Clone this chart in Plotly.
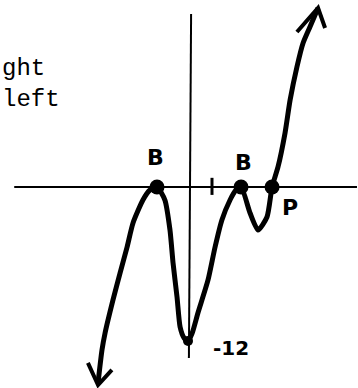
import plotly.graph_objects as go

# Curve (x units: tick "1" = 1; y units: "-12" = -12)
curve_x = [-4.18, -4.00, -3.86, -3.50, -3.18, -2.86, -2.59, -2.14, -1.82, -1.50,
           -1.14, -0.91, -0.77, -0.59, -0.45, -0.27, -0.09,
           0.10, 0.36, 0.82, 1.14, 1.45, 1.82, 2.09, 2.32,
           2.73, 3.09, 3.50, 3.73,
           4.00, 4.32, 4.55, 4.86, 5.14, 5.45, 5.82]
curve_y = [-15.37, -12.78, -11.45, -8.86, -6.75, -4.71, -2.82, -1.02, -0.24, 0.0,
           -1.02, -3.37, -5.96, -8.63, -10.98, -11.84, -12.08,
           -11.45, -9.88, -7.29, -4.71, -2.59, -1.02, -0.24, 0.0,
           -2.04, -3.37, -2.35, 0.0,
           1.57, 4.24, 6.82, 9.41, 11.29, 12.55, 14.04]

# Arrow heads
right_head_x = [4.86, 5.82, 6.14]
right_head_y = [12.16, 14.04, 12.47]
left_head_x = [-4.64, -4.18, -3.55]
left_head_y = [-13.80, -15.53, -14.35]

# Axes lines
xaxis_line_x = [-7.99, 7.59]
xaxis_line_y = [0, 0]
yaxis_line_x = [0.05, -0.05]
yaxis_line_y = [13.57, -13.41]

# Marked points
root_x = [-1.50, 2.32, 3.73]
root_y = [0, 0, 0]
min_x = [-0.09]
min_y = [-12.08]

# Labels
label_text = ["B", "B", "P", "-12", "1"]
label_x = [-1.59, 2.41, 4.55, 1.85, 1.0]
label_y = [2.35, 1.96, -1.57, -12.63, 0.0]
side_text = ["ght", "left"]

fig = go.Figure()
fig.add_trace(go.Scatter(x=xaxis_line_x, y=xaxis_line_y, mode="lines",
                         line=dict(color="black", width=2), hoverinfo="skip"))
fig.add_trace(go.Scatter(x=yaxis_line_x, y=yaxis_line_y, mode="lines",
                         line=dict(color="black", width=2), hoverinfo="skip"))
fig.add_trace(go.Scatter(x=curve_x, y=curve_y, mode="lines",
                         line=dict(color="black", width=5, shape="spline", smoothing=0.6)))
fig.add_trace(go.Scatter(x=right_head_x, y=right_head_y, mode="lines",
                         line=dict(color="black", width=4)))
fig.add_trace(go.Scatter(x=left_head_x, y=left_head_y, mode="lines",
                         line=dict(color="black", width=4)))
fig.add_trace(go.Scatter(x=root_x, y=root_y, mode="markers",
                         marker=dict(color="black", size=15)))
fig.add_trace(go.Scatter(x=min_x, y=min_y, mode="markers",
                         marker=dict(color="black", size=10)))

hand_font = dict(family="DejaVu Sans", size=22, color="black")
for t, x, y in zip(label_text[:4], label_x[:4], label_y[:4]):
    fig.add_annotation(x=x, y=y, text="<b>" + t + "</b>", showarrow=False,
                       font=hand_font if t != "-12" else dict(family="DejaVu Sans", size=20, color="black"))
# tick mark "1"
fig.add_trace(go.Scatter(x=[label_x[4], label_x[4]], y=[0.72, -0.62], mode="lines",
                         line=dict(color="black", width=3)))

mono = dict(family="Liberation Mono", size=24, color="black")
fig.add_annotation(xref="paper", yref="paper", x=0.0, y=1 - 84 / 388, xanchor="left",
                   yanchor="middle", align="left", text="<br>".join(side_text),
                   showarrow=False, font=mono, borderpad=0, xshift=1)

fig.update_layout(
    width=358, height=388, autosize=False,
    margin=dict(l=0, r=0, t=0, b=0),
    paper_bgcolor="white", plot_bgcolor="white",
    showlegend=False,
    xaxis=dict(range=[-190 / 22, 168 / 22], visible=False, fixedrange=True),
    yaxis=dict(range=[-201 / 12.75, 187 / 12.75], visible=False, fixedrange=True),
)
fig.write_html("out.html", config={"displayModeBar": False},
               post_script="document.body.style.margin='0';document.body.style.overflow='hidden';")
